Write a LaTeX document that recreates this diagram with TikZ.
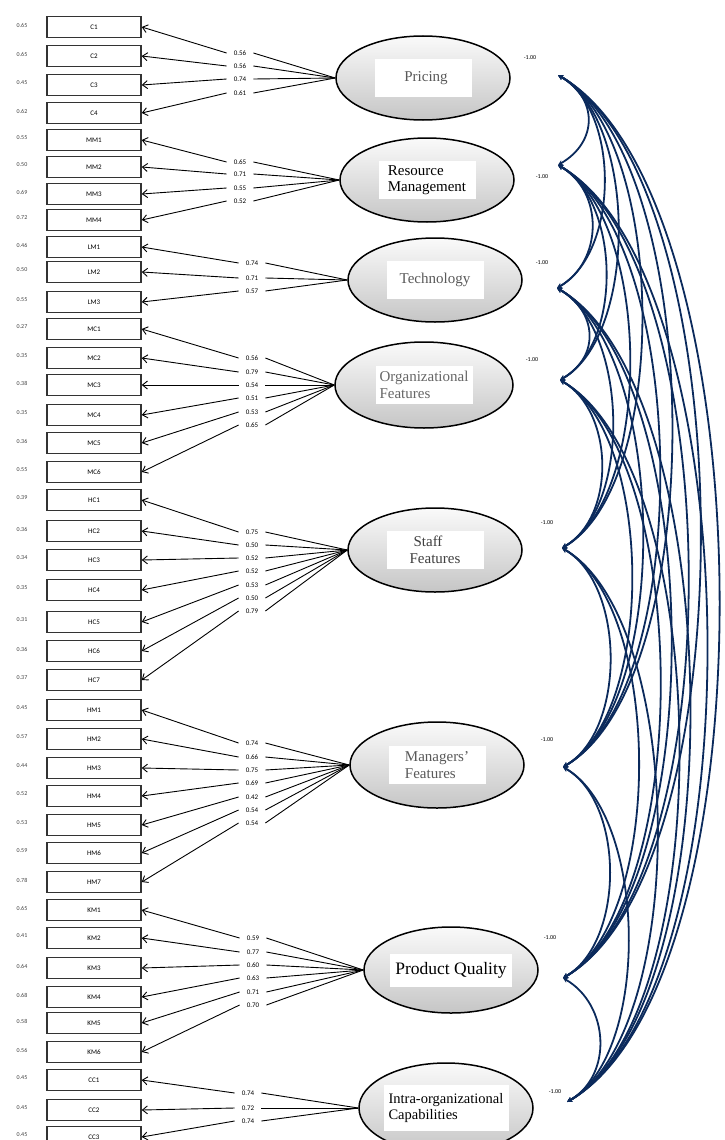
\documentclass[tikz,border=0pt]{standalone}
\usepackage{fontspec}
\setmainfont{Liberation Serif}
\setsansfont{Carlito}
\usetikzlibrary{arrows.meta}
\usetikzlibrary{positioning}
\usetikzlibrary{shapes.geometric}

\definecolor{navy}{HTML}{0B2A5C}
\tikzset{
	item/.style={draw=black!80, line width=1.5pt, minimum width=94pt, minimum height=21pt, inner sep=0pt, font=\sffamily\fontsize{7}{8}\selectfont},
	errlab/.style={font=\sffamily\fontsize{6}{7}\selectfont, text=black!75},
	load/.style={font=\sffamily\fontsize{7}{8}\selectfont, inner xsep=7pt, inner ysep=0.5pt},
	factor/.style={ellipse, draw, line width=1.5pt, minimum width=174pt, minimum height=84pt, top color=gray!4, bottom color=gray!45},
	fname/.style={fill=white, font=\fontsize{15}{16.5}\selectfont, align=left, minimum width=97pt, minimum height=38pt, inner sep=3pt},
	varlab/.style={font=\sffamily\fontsize{6}{7}\selectfont},
	corr/.style={{Stealth[length=5pt,width=5pt]}-{Stealth[length=5pt,width=5pt]}, draw=navy, line width=1.8pt},
	path/.style={-{Straight Barb[length=5pt,width=8pt]}, line width=0.9pt}
}

\begin{document}
\begin{tikzpicture}[x=1pt, y=-1pt]
	\useasboundingbox (0,0) rectangle (725,1140);
	
	% observed items with error variances
	\foreach \b/\y/\e in {C1/27/0.65, C2/56/0.65, C3/85/0.45, C4/113/0.62, MM1/140/0.55, MM2/167/0.50, MM3/194/0.69, MM4/220/0.72, LM1/247/0.46, LM2/272/0.50, LM3/302/0.55, MC1/329/0.27, MC2/358/0.35, MC3/385/0.38, MC4/415/0.35, MC5/443/0.36, MC6/472/0.55, HC1/500/0.39, HC2/531/0.36, HC3/560/0.34, HC4/590/0.35, HC5/622/0.31, HC6/651/0.36, HC7/680/0.37, HM1/710/0.45, HM2/739/0.57, HM3/768/0.44, HM4/796/0.52, HM5/825/0.53, HM6/853/0.59, HM7/882/0.78, KM1/910/0.65, KM2/938/0.41, KM3/968/0.64, KM4/997/0.68, KM5/1023/0.58, KM6/1052/0.56, CC1/1080/0.45, CC2/1110/0.45, CC3/1137/0.45}{
		\node[item] (\b) at (94,\y) {\b};
		\node[errlab] (e\b) at (22,\y-2) {\e};
	}
	
	% latent factors
	\node[factor] (pri) at (423,78) {};
	\node[fname, text=black!65] (tpri) at (pri) {\hspace{6pt}Pricing};
	\node[factor] (res) at (427,180) {};
	\node[fname] (tres) at (res) {Resource\\Management};
	\node[factor] (tec) at (435,280) {};
	\node[fname, text=black!65] (ttec) at (tec) {Technology};
	\node[factor, minimum width=178pt, minimum height=86pt] (org) at (424,385) {};
	\node[fname, text=black!60] (torg) at (org) {Organizational\\Features};
	\node[factor] (sta) at (435,550) {};
	\node[fname, text=black!75] (tsta) at (sta) {\hspace{4pt}Staff\\Features};
	\node[factor, minimum height=86pt] (man) at (437,765) {};
	\node[fname, text=black!65] (tman) at (man) {Managers'\\Features};
	\node[factor, minimum height=86pt] (pro) at (451,970) {};
	\node[fname, font=\fontsize{17.5}{19}\selectfont, minimum width=122pt, minimum height=33pt] (tpro) at (pro) {Product Quality};
	\node[factor, minimum height=90pt] (int) at (446,1108) {};
	\node[fname, font=\fontsize{14.5}{16}\selectfont, minimum width=125pt, minimum height=46pt] (tint) at (int) {Intra-organizational\\Capabilities};
	
	% loadings
	\foreach \v/\y/\b in {0.56/53/C1, 0.56/66/C2, 0.74/79/C3, 0.61/93/C4}{
		\node[load] (w\b) at (240,\y) {\v};
		\draw[line width=0.9pt] (pri.west) -- (w\b.east);
		\draw[path] (w\b.west) -- (\b.east);
	}
	\foreach \v/\y/\b in {0.65/162/MM1, 0.71/174/MM2, 0.55/188/MM3, 0.52/201/MM4}{
		\node[load] (w\b) at (240,\y) {\v};
		\draw[line width=0.9pt] (res.west) -- (w\b.east);
		\draw[path] (w\b.west) -- (\b.east);
	}
	\foreach \v/\y/\b in {0.74/263/LM1, 0.71/278/LM2, 0.57/291/LM3}{
		\node[load] (w\b) at (252,\y) {\v};
		\draw[line width=0.9pt] (tec.west) -- (w\b.east);
		\draw[path] (w\b.west) -- (\b.east);
	}
	\foreach \v/\y/\b in {0.56/358/MC1, 0.79/372/MC2, 0.54/385/MC3, 0.51/398/MC4, 0.53/412/MC5, 0.65/425/MC6}{
		\node[load] (w\b) at (252,\y) {\v};
		\draw[line width=0.9pt] (org.west) -- (w\b.east);
		\draw[path] (w\b.west) -- (\b.east);
	}
	\foreach \v/\y/\b in {0.75/532/HC1, 0.50/545/HC2, 0.52/558/HC3, 0.52/571/HC4, 0.53/585/HC5, 0.50/598/HC6, 0.79/611/HC7}{
		\node[load] (w\b) at (252,\y) {\v};
		\draw[line width=0.9pt] (sta.west) -- (w\b.east);
		\draw[path] (w\b.west) -- (\b.east);
	}
	\foreach \v/\y/\b in {0.74/743/HM1, 0.66/757/HM2, 0.75/770/HM3, 0.69/783/HM4, 0.42/797/HM5, 0.54/810/HM6, 0.54/823/HM7}{
		\node[load] (w\b) at (252,\y) {\v};
		\draw[line width=0.9pt] (man.west) -- (w\b.east);
		\draw[path] (w\b.west) -- (\b.east);
	}
	\foreach \v/\y/\b in {0.59/938/KM1, 0.77/952/KM2, 0.60/965/KM3, 0.63/978/KM4, 0.71/992/KM5, 0.70/1005/KM6}{
		\node[load] (w\b) at (253,\y) {\v};
		\draw[line width=0.9pt] (pro.west) -- (w\b.east);
		\draw[path] (w\b.west) -- (\b.east);
	}
	\foreach \v/\y/\b in {0.74/1093/CC1, 0.72/1108/CC2, 0.74/1121/CC3}{
		\node[load] (w\b) at (248,\y) {\v};
		\draw[line width=0.9pt] (int.west) -- (w\b.east);
		\draw[path] (w\b.west) -- (\b.east);
	}
	
	% factor variances
	\node[varlab] (vpri) at (530,58) {-1.00};
	\node[varlab] (vres) at (542,177) {-1.00};
	\node[varlab] (vtec) at (542,263) {-1.00};
	\node[varlab] (vorg) at (532,360) {-1.00};
	\node[varlab] (vsta) at (547,523) {-1.00};
	\node[varlab] (vman) at (547,740) {-1.00};
	\node[varlab] (vpro) at (550,938) {-1.00};
	\node[varlab] (vint) at (555,1092) {-1.00};
	
	% correlations between factors
	\coordinate (aPri) at (558,75);
	\coordinate (aRes) at (558,165);
	\coordinate (aTec) at (557,288);
	\coordinate (aOrg) at (560,380);
	\coordinate (aSta) at (562,548);
	\coordinate (aMan) at (563,767);
	\coordinate (aPro) at (563,978);
	\coordinate (aInt) at (567,1102);
	\foreach \a/\ya [count=\i] in {aPri/75, aRes/165, aTec/288, aOrg/380, aSta/548, aMan/767, aPro/978, aInt/1102}{
		\foreach \c/\yc [count=\j] in {aPri/75, aRes/165, aTec/288, aOrg/380, aSta/548, aMan/767, aPro/978, aInt/1102}{
			\ifnum\j>\i
				\pgfmathsetmacro\r{27.7+0.2075*(\yc-\ya)}
				\draw[corr] (\a) .. controls +({0.866*\r},{0.5*\r}) and +({0.866*\r},{-0.5*\r}) .. (\c);
			\fi
		}
	}
\end{tikzpicture}
\end{document}
